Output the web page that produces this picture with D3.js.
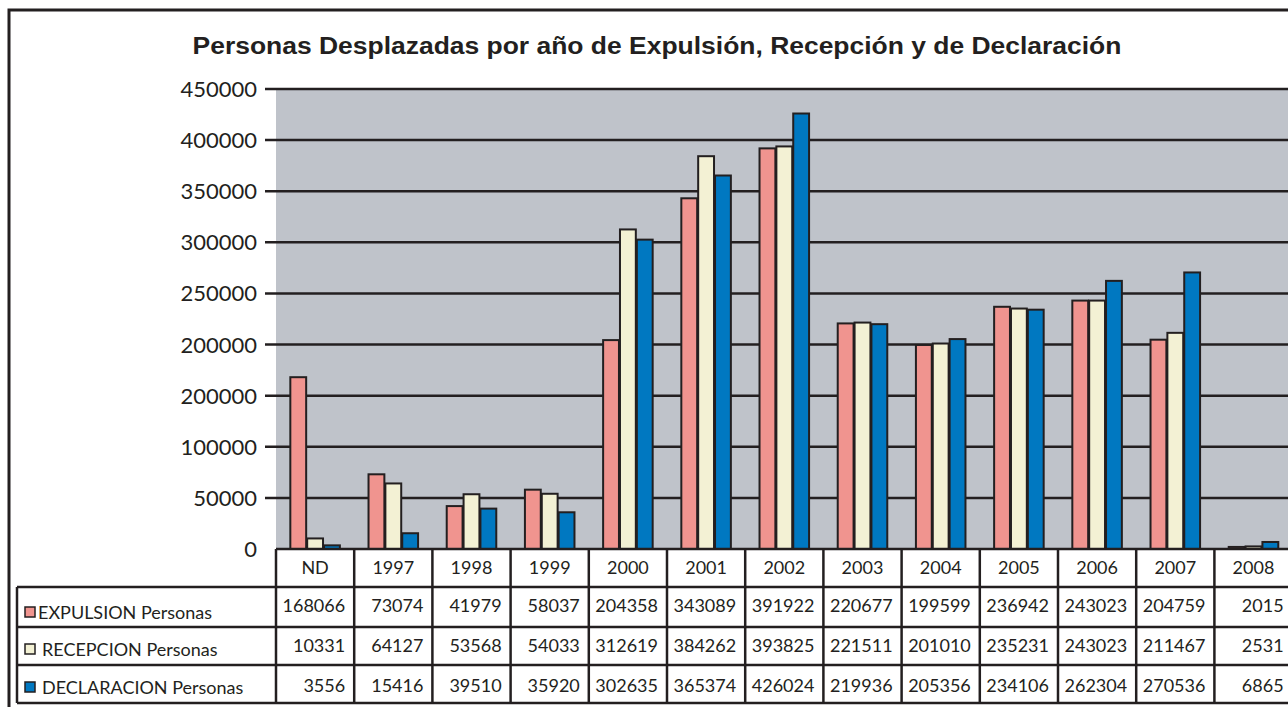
<!DOCTYPE html>
<html>
<head>
<meta charset="utf-8">
<script src="https://cdn.jsdelivr.net/npm/d3@7"></script>
<style>
  body { margin: 0; background: #fff; overflow: hidden; }
  svg { display: block; }
</style>
</head>
<body>
<div id="chart"></div>
<script>
var categories = ["ND", "1997", "1998", "1999", "2000", "2001", "2002", "2003", "2004", "2005", "2006", "2007", "2008"];
var expulsion   = [168066, 73074, 41979, 58037, 204358, 343089, 391922, 220677, 199599, 236942, 243023, 204759, 2015];
var recepcion   = [10331, 64127, 53568, 54033, 312619, 384262, 393825, 221511, 201010, 235231, 243023, 211467, 2531];
var declaracion = [3556, 15416, 39510, 35920, 302635, 365374, 426024, 219936, 205356, 234106, 262304, 270536, 6865];
var seriesNames = ["EXPULSION Personas", "RECEPCION Personas", "DECLARACION Personas"];
// y axis tick values and the labels as printed (the 150000 tick reads 200000 in the original)
var tickValues = [0, 50000, 100000, 150000, 200000, 250000, 300000, 350000, 400000, 450000];
var tickLabels = ["0", "50000", "100000", "200000", "200000", "250000", "300000", "350000", "400000", "450000"];

var colors = ["#f0948f", "#f3f1d4", "#0078c1"];
var dark = "#231f20";

var W = 1288, H = 707;
var plotLeft = 276, plotTop = 89, plotBottom = 549;
var colW = 78.2;

var svg = d3.select("#chart").append("svg")
  .attr("width", W).attr("height", H);

// outer frame
svg.append("rect")
  .attr("x", 9).attr("y", 10)
  .attr("width", 1400).attr("height", 800)
  .attr("fill", "none").attr("stroke", dark).attr("stroke-width", 3);

// title (slightly stretched horizontally like the original)
svg.append("g")
  .attr("transform", "translate(657,54) scale(1.08,1)")
  .append("text")
    .attr("text-anchor", "middle")
    .style("font-family", "'Liberation Sans', Arial, sans-serif")
    .style("font-weight", "bold")
    .style("font-size", "24.5px")
    .style("fill", dark)
    .text("Personas Desplazadas por año de Expulsión, Recepción y de Declaración");

var x = d3.scaleBand()
  .domain(categories)
  .range([plotLeft, plotLeft + colW * categories.length]);

var x1 = d3.scaleBand()
  .domain([0, 1, 2])
  .range([0, x.bandwidth()])
  .paddingOuter(0.85)
  .paddingInner(0.06);

var y = d3.scaleLinear()
  .domain([0, 450000])
  .range([plotBottom, plotTop]);

// plot background
svg.append("rect")
  .attr("x", plotLeft).attr("y", plotTop)
  .attr("width", x.range()[1] - plotLeft).attr("height", plotBottom - plotTop)
  .attr("fill", "#bfc3ca");

// grid lines + y labels
svg.append("g").selectAll("line")
  .data(tickValues.slice(1))
  .enter().append("line")
    .attr("x1", 265).attr("x2", x.range()[1])
    .attr("y1", function(d) { return y(d); })
    .attr("y2", function(d) { return y(d); })
    .attr("stroke", dark).attr("stroke-width", 2.5);

svg.append("g").selectAll("text")
  .data(tickValues)
  .enter().append("text")
    .attr("x", 257)
    .attr("y", function(d) { return y(d) + 8; })
    .attr("text-anchor", "end")
    .style("font-family", "Lato, sans-serif")
    .style("font-size", "22px")
    .style("fill", dark)
    .text(function(d, i) { return tickLabels[i]; });

// bars
var allSeries = [expulsion, recepcion, declaracion];
var rows = categories.map(function(c, i) {
  return { cat: c, vals: allSeries.map(function(s) { return s[i]; }) };
});

var groups = svg.append("g").selectAll("g")
  .data(rows)
  .enter().append("g")
    .attr("transform", function(d) { return "translate(" + x(d.cat) + ",0)"; });

groups.selectAll("rect")
  .data(function(d) { return d.vals.map(function(v, k) { return { k: k, v: v }; }); })
  .enter().append("rect")
    .attr("x", function(d) { return x1(d.k); })
    .attr("y", function(d) { return y(d.v); })
    .attr("width", x1.bandwidth())
    .attr("height", function(d) { return y(0) - y(d.v); })
    .attr("fill", function(d) { return colors[d.k]; })
    .attr("stroke", dark).attr("stroke-width", 2);

// data table
var rowTop = [587, 627, 665];
var rowBottom = 703;
var tbl = svg.append("g");

tbl.append("line")
  .attr("x1", plotLeft).attr("x2", x.range()[1])
  .attr("y1", plotBottom).attr("y2", plotBottom)
  .attr("stroke", dark).attr("stroke-width", 2.5);

rowTop.concat([rowBottom]).forEach(function(ry) {
  tbl.append("line")
    .attr("x1", 17).attr("x2", x.range()[1])
    .attr("y1", ry).attr("y2", ry)
    .attr("stroke", dark).attr("stroke-width", 2.5);
});

tbl.append("line")
  .attr("x1", 17).attr("x2", 17)
  .attr("y1", rowTop[0]).attr("y2", rowBottom)
  .attr("stroke", dark).attr("stroke-width", 2.5);

tbl.selectAll(".vline")
  .data(categories)
  .enter().append("line")
    .attr("class", "vline")
    .attr("x1", function(d) { return x(d); })
    .attr("x2", function(d) { return x(d); })
    .attr("y1", plotBottom).attr("y2", rowBottom)
    .attr("stroke", dark).attr("stroke-width", 2.5);

tbl.selectAll(".hdr")
  .data(categories)
  .enter().append("text")
    .attr("class", "hdr")
    .attr("x", function(d) { return x(d) + x.bandwidth() / 2; })
    .attr("y", 574)
    .attr("text-anchor", "middle")
    .style("font-family", "Lato, sans-serif")
    .style("font-size", "18px")
    .style("fill", dark)
    .text(function(d) { return d; });

var numBase = [612, 652, 692];
var labelBase = [619, 656, 694];

seriesNames.forEach(function(name, k) {
  tbl.append("rect")
    .attr("x", 25).attr("y", labelBase[k] - 12)
    .attr("width", 10).attr("height", 10)
    .attr("fill", colors[k]).attr("stroke", dark).attr("stroke-width", 1.5);

  tbl.append("text")
    .attr("x", k === 0 ? 38 : 42).attr("y", labelBase[k])
    .style("font-family", "Lato, sans-serif")
    .style("font-size", "18px")
    .style("fill", dark)
    .text(name);

  tbl.selectAll(".num" + k)
    .data(allSeries[k])
    .enter().append("text")
      .attr("x", function(d, i) { return x(categories[i]) + x.bandwidth() - 9; })
      .attr("y", numBase[k])
      .attr("text-anchor", "end")
      .style("font-family", "Lato, sans-serif")
      .style("font-size", "18px")
      .style("fill", dark)
      .text(function(d) { return d; });
});
</script>
</body>
</html>
